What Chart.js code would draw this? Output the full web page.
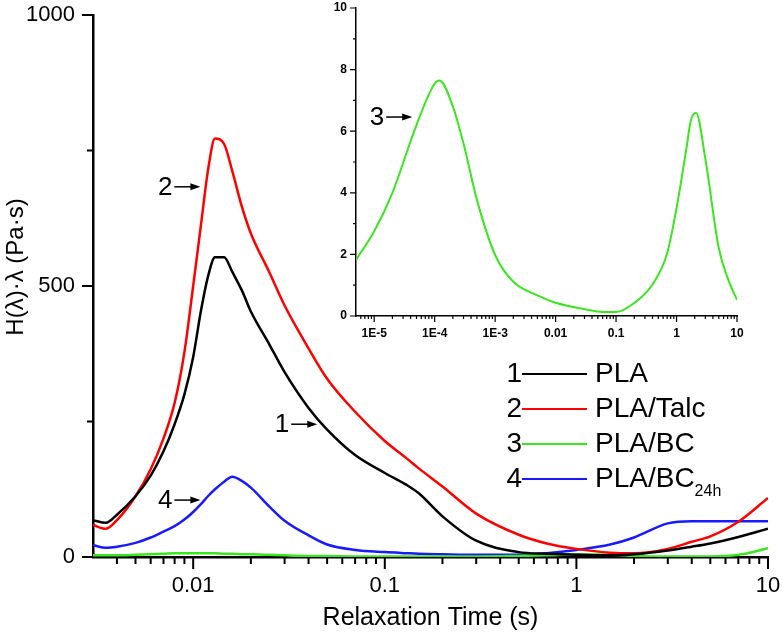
<!DOCTYPE html>
<html>
<head>
<meta charset="utf-8">
<script src="https://cdn.jsdelivr.net/npm/chart.js@4.4.1/dist/chart.umd.min.js"></script>
<style>
  html, body { margin: 0; padding: 0; background: #fff; }
  #wrap { position: relative; width: 782px; height: 638px; }
  #main-chart { position: absolute; left: 0; top: 0; }
  #inset-box { position: absolute; left: 300px; top: 0; width: 470px; height: 345px; }
</style>
</head>
<body>
<div id="wrap">
  <canvas id="main-chart" width="782" height="638"></canvas>
  <div id="inset-box"><canvas id="inset-chart" width="470" height="345"></canvas></div>
</div>
<script>
// dados do gráfico principal
const relaxTime = [0.003, 0.0035, 0.004, 0.005, 0.006, 0.007, 0.008, 0.009, 0.01, 0.011, 0.012, 0.013, 0.0145,
  0.016, 0.018, 0.02, 0.025, 0.03, 0.04, 0.05, 0.07, 0.1, 0.13, 0.15, 0.2, 0.3, 0.5, 0.7, 1, 1.5, 2, 3, 4, 5, 7, 10];
const pla     = [68, 63, 78, 112, 150, 195, 245, 300, 369, 456, 520, 553, 553, 526, 491, 453, 392, 341, 275, 235,
  188, 155, 133, 118, 75, 30, 9, 6, 4, 3, 5, 12, 19, 25, 37, 52];
const plaTalc = [59, 52, 68, 112, 162, 219, 284, 378, 500, 615, 718, 772, 762, 712, 645, 597, 525, 464, 385, 329,
  268, 214, 182, 164, 130, 80, 41, 25, 15, 8, 7, 15, 28, 38, 65, 109];
const plaBC   = [3, 3, 3, 4, 5, 6, 7, 7, 7, 7, 7, 7, 6, 6, 5, 5, 4, 3, 2, 2, 1, 1, 1, 1, 1, 1, 2, 3, 5, 4, 2, 1, 1, 1, 4, 16];
const plaBC24 = [22, 17, 19, 26, 36, 47, 57, 69, 83, 98, 113, 125, 139, 148, 140, 128, 93, 67, 40, 23, 13, 9, 7, 6,
  5, 4, 4, 7, 13, 23, 36, 62, 66, 66, 66, 66];

// dados do gráfico interno (PLA/BC)
const insetTime = [5e-6, 1e-5, 2e-5, 5e-5, 1e-4, 1.2e-4, 2e-4, 3e-4, 5e-4, 1e-3, 2e-3, 5e-3, 0.01, 0.03, 0.06, 0.1,
  0.2, 0.4, 0.7, 1, 1.5, 1.7, 2.1, 3, 5, 7, 10];
const insetBC = [1.82, 2.75, 4.0, 6.2, 7.55, 7.65, 6.8, 5.6, 3.77, 1.98, 1.11, 0.67, 0.43, 0.22, 0.13, 0.13, 0.42,
  1.02, 2.04, 3.5, 5.6, 6.3, 6.6, 5.1, 2.2, 1.24, 0.52];

// ticks
const mainXMajor = [0.01, 0.1, 1, 10];
const mainXMinor = [0.004, 0.005, 0.006, 0.007, 0.008, 0.009, 0.02, 0.03, 0.04, 0.05, 0.06, 0.07, 0.08, 0.09,
  0.2, 0.3, 0.4, 0.5, 0.6, 0.7, 0.8, 0.9, 2, 3, 4, 5, 6, 7, 8, 9];
const mainYMajor = [0, 500, 1000];
const mainYMinor = [250, 750];
const insetXMajor = [1e-5, 1e-4, 1e-3, 0.01, 0.1, 1, 10];
const insetXLabels = ['1E-5', '1E-4', '1E-3', '0.01', '0.1', '1', '10'];
const insetXMinor = [6e-6, 7e-6, 8e-6, 9e-6, 2e-5, 3e-5, 4e-5, 5e-5, 6e-5, 7e-5, 8e-5, 9e-5,
  2e-4, 3e-4, 4e-4, 5e-4, 6e-4, 7e-4, 8e-4, 9e-4, 0.002, 0.003, 0.004, 0.005, 0.006, 0.007, 0.008, 0.009,
  0.02, 0.03, 0.04, 0.05, 0.06, 0.07, 0.08, 0.09, 0.2, 0.3, 0.4, 0.5, 0.6, 0.7, 0.8, 0.9, 2, 3, 4, 5, 6, 7, 8, 9];
const insetYMajor = [0, 2, 4, 6, 8, 10];
const insetYMinor = [1, 3, 5, 7, 9];

// legenda e anotações
const legendNums  = ['1', '2', '3', '4'];
const legendNames = ['PLA', 'PLA/Talc', 'PLA/BC', 'PLA/BC'];
const legendSubs  = ['', '', '', '24h'];
const colors      = ['#000000', '#ff0000', '#3ae61e', '#1a1aff'];
const mainNotes   = [{ text: '2', x: 0.0109, y: 683 }, { text: '1', x: 0.0444, y: 245 }, { text: '4', x: 0.0109, y: 105 }];
const insetNotes  = [{ text: '3', x: 4.25e-5, y: 6.46 }];

const FONT = '"Liberation Sans", Arial, sans-serif';

function toPoints(xs, ys) {
  return xs.map((x, i) => ({ x, y: ys[i] }));
}

function tickValues(major, minor) {
  return major.concat(minor).sort((a, b) => a - b).map(v => ({ value: v }));
}

// tira o espaço extra que o Chart.js reserva para os rótulos das pontas
function fixSize(prop, size) {
  return s => {
    s[prop] = size;
    s.paddingTop = 0; s.paddingBottom = 0;
    s.paddingLeft = 0; s.paddingRight = 0;
  };
}

// marcas dos ticks (maiores e menores)
function tickMarks(spec) {
  return {
    id: 'tickMarks',
    afterDraw(chart) {
      const ctx = chart.ctx;
      const { x, y } = chart.scales;
      ctx.save();
      ctx.strokeStyle = '#000';
      ctx.lineWidth = spec.width;
      ctx.beginPath();
      const xTick = (v, len) => {
        const px = x.getPixelForValue(v);
        ctx.moveTo(px, y.bottom);
        ctx.lineTo(px, y.bottom + len);
      };
      const yTick = (v, len) => {
        const py = y.getPixelForValue(v);
        ctx.moveTo(x.left, py);
        ctx.lineTo(x.left - len, py);
      };
      spec.xMajor.forEach(v => xTick(v, spec.majorX));
      spec.xMinor.forEach(v => xTick(v, spec.minorX));
      spec.yMajor.forEach(v => yTick(v, spec.majorY));
      spec.yMinor.forEach(v => yTick(v, spec.minorY));
      ctx.stroke();
      ctx.restore();
    }
  };
}

// setas com número
function arrowNotes(notes, fontSize, len) {
  return {
    id: 'arrowNotes',
    afterDraw(chart) {
      const ctx = chart.ctx;
      const { x, y } = chart.scales;
      ctx.save();
      ctx.fillStyle = '#000';
      ctx.strokeStyle = '#000';
      ctx.lineWidth = 1.5;
      ctx.font = `${fontSize}px ${FONT}`;
      ctx.textAlign = 'right';
      ctx.textBaseline = 'middle';
      notes.forEach(n => {
        const tx = x.getPixelForValue(n.x);
        const ty = y.getPixelForValue(n.y);
        ctx.beginPath();
        ctx.moveTo(tx - len, ty);
        ctx.lineTo(tx - 8, ty);
        ctx.stroke();
        ctx.beginPath();
        ctx.moveTo(tx, ty);
        ctx.lineTo(tx - 10, ty - 3.5);
        ctx.lineTo(tx - 10, ty + 3.5);
        ctx.closePath();
        ctx.fill();
        ctx.fillText(n.text, tx - len - 2, ty + 1);
      });
      ctx.restore();
    }
  };
}

// títulos dos eixos e legenda
const mainDecor = {
  id: 'mainDecor',
  afterDraw(chart) {
    const ctx = chart.ctx;
    const area = chart.chartArea;
    ctx.save();
    ctx.fillStyle = '#000';
    ctx.textBaseline = 'middle';

    ctx.font = `25px ${FONT}`;
    ctx.textAlign = 'center';
    ctx.fillText('Relaxation Time (s)', (area.left + area.right) / 2, 618);

    ctx.save();
    ctx.translate(16, 267);
    ctx.rotate(-Math.PI / 2);
    ctx.font = `24px ${FONT}`;
    ctx.fillText('H(λ)·λ (Pa·s)', 0, 0);
    ctx.restore();

    legendNums.forEach((num, i) => {
      const cy = 374 + i * 35;
      ctx.font = `28px ${FONT}`;
      ctx.textAlign = 'right';
      ctx.fillStyle = '#000';
      ctx.fillText(num, 522, cy);
      ctx.strokeStyle = colors[i];
      ctx.lineWidth = 2;
      ctx.beginPath();
      ctx.moveTo(522, cy);
      ctx.lineTo(587, cy);
      ctx.stroke();
      ctx.textAlign = 'left';
      ctx.fillText(legendNames[i], 595, cy);
      if (legendSubs[i]) {
        const w = ctx.measureText(legendNames[i]).width;
        ctx.font = `16px ${FONT}`;
        ctx.fillText(legendSubs[i], 595 + w, cy + 13);
      }
    });
    ctx.restore();
  }
};

const mainNames = ['PLA', 'PLA/Talc', 'PLA/BC', 'PLA/BC24h'];
const mainSeries = [pla, plaTalc, plaBC, plaBC24];

new Chart(document.getElementById('main-chart'), {
  type: 'line',
  data: {
    datasets: mainSeries.map((values, i) => ({
      label: mainNames[i],
      data: toPoints(relaxTime, values),
      borderColor: colors[i],
      borderWidth: 2.5,
      pointRadius: 0,
      cubicInterpolationMode: 'monotone'
    }))
  },
  options: {
    responsive: false,
    animation: false,
    events: [],
    layout: { padding: { left: 0, top: 15, right: 14, bottom: 0 } },
    plugins: { legend: { display: false }, tooltip: { enabled: false } },
    scales: {
      x: {
        type: 'logarithmic', min: 0.003, max: 10,
        afterBuildTicks: s => { s.ticks = tickValues(mainXMajor, mainXMinor); },
        afterFit: fixSize('height', 81),
        grid: { drawOnChartArea: false, drawTicks: false },
        border: { color: '#000', width: 2.5 },
        ticks: {
          autoSkip: false, maxRotation: 0, padding: 16, color: '#000',
          font: { family: FONT, size: 22 },
          callback: v => mainXMajor.includes(v) ? String(v) : ''
        }
      },
      y: {
        type: 'linear', min: 0, max: 1000,
        afterBuildTicks: s => { s.ticks = mainYMajor.map(v => ({ value: v })); },
        afterFit: fixSize('width', 93),
        grid: { drawOnChartArea: false, drawTicks: false },
        border: { color: '#000', width: 2.5 },
        ticks: { padding: 18, color: '#000', font: { family: FONT, size: 22 }, callback: v => String(v) }
      }
    }
  },
  plugins: [
    tickMarks({ xMajor: mainXMajor, xMinor: mainXMinor, yMajor: mainYMajor, yMinor: mainYMinor,
      majorX: 12, minorX: 7, majorY: 11, minorY: 6, width: 2 }),
    arrowNotes(mainNotes, 26, 26),
    mainDecor
  ]
});

// gráfico interno
new Chart(document.getElementById('inset-chart'), {
  type: 'line',
  data: {
    datasets: [{
      label: 'PLA/BC',
      data: toPoints(insetTime, insetBC),
      borderColor: colors[2],
      borderWidth: 2,
      pointRadius: 0,
      cubicInterpolationMode: 'monotone'
    }]
  },
  options: {
    responsive: false,
    animation: false,
    events: [],
    layout: { padding: { left: 0, top: 8, right: 33, bottom: 0 } },
    plugins: { legend: { display: false }, tooltip: { enabled: false } },
    scales: {
      x: {
        type: 'logarithmic', min: 5e-6, max: 10,
        afterBuildTicks: s => { s.ticks = tickValues(insetXMajor, insetXMinor); },
        afterFit: fixSize('height', 29),
        grid: { drawOnChartArea: false, drawTicks: false },
        border: { color: '#000', width: 1.5 },
        ticks: {
          autoSkip: false, maxRotation: 0, padding: 10, color: '#000',
          font: { family: FONT, size: 12, weight: 'bold' },
          callback: v => {
            const i = insetXMajor.indexOf(v);
            return i >= 0 ? insetXLabels[i] : '';
          }
        }
      },
      y: {
        type: 'linear', min: 0, max: 10,
        afterBuildTicks: s => { s.ticks = insetYMajor.map(v => ({ value: v })); },
        afterFit: fixSize('width', 56),
        grid: { drawOnChartArea: false, drawTicks: false },
        border: { color: '#000', width: 1.5 },
        ticks: { padding: 9, color: '#000', font: { family: FONT, size: 12, weight: 'bold' } }
      }
    }
  },
  plugins: [
    tickMarks({ xMajor: insetXMajor, xMinor: insetXMinor, yMajor: insetYMajor, yMinor: insetYMinor,
      majorX: 6, minorX: 3, majorY: 6, minorY: 3, width: 1.2 }),
    arrowNotes(insetNotes, 26, 26)
  ]
});
</script>
</body>
</html>
